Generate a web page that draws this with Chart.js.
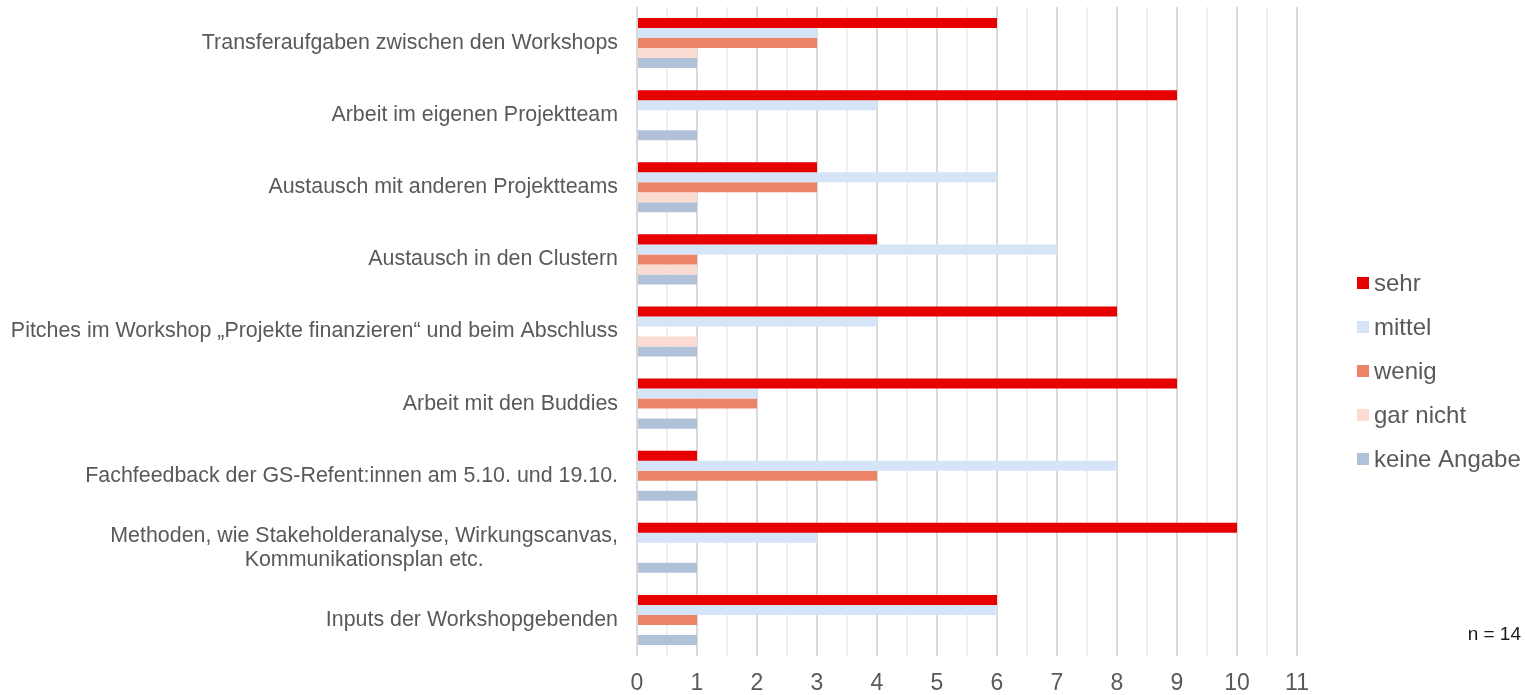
<!DOCTYPE html>
<html>
<head>
<meta charset="utf-8">
<script src="https://cdn.jsdelivr.net/npm/chart.js@4.4.1/dist/chart.umd.min.js"></script>
<style>
  html, body { margin: 0; padding: 0; background: #fff; }
  #wrap { width: 1525px; height: 695px; position: relative; }
</style>
</head>
<body>
<div id="wrap"><canvas id="bar_chart"></canvas></div>
<script>
// categories, top to bottom
const categories = [
    'Transferaufgaben zwischen den Workshops',
    'Arbeit im eigenen Projektteam',
    'Austausch mit anderen Projektteams',
    'Austausch in den Clustern',
    'Pitches im Workshop „Projekte finanzieren“ und beim Abschluss',
    'Arbeit mit den Buddies',
    'Fachfeedback der GS-Refent:innen am 5.10. und 19.10.',
    ['Methoden, wie Stakeholderanalyse, Wirkungscanvas,', 'Kommunikationsplan etc.'],
    'Inputs der Workshopgebenden'
];

const seriesNames = ['sehr', 'mittel', 'wenig', 'gar nicht', 'keine Angabe'];

const sehr        = [6, 9, 3, 4, 8, 9, 1, 10, 6];
const mittel      = [3, 4, 6, 7, 4, 2, 8, 3, 6];
const wenig       = [3, 0, 3, 1, 0, 2, 4, 0, 1];
const garNicht    = [1, 0, 1, 1, 1, 0, 0, 0, 0];
const keineAngabe = [1, 1, 1, 1, 1, 1, 1, 1, 1];

const xMin = 0;
const xMax = 11;
const sampleNote = 'n = 14';

const colors = ['#e60000', '#d6e4f8', '#eb8466', '#fbdcd2', '#b1c2d8'];
const textColor = '#595959';
const fontFamily = '"Liberation Sans", Arial, sans-serif';

const seriesValues = [sehr, mittel, wenig, garNicht, keineAngabe];

let datasets = [];
for (let i = 0; i < seriesNames.length; i++) {
    datasets.push({
        label: seriesNames[i],
        data: seriesValues[i],
        backgroundColor: colors[i],
        borderWidth: 0,
        categoryPercentage: 0.694,
        barPercentage: 1.0
    });
}

// category labels: right aligned block, multi-line labels centred inside the block
const categoryLabels = {
    id: 'categoryLabels',
    afterDraw(chart) {
        const ctx = chart.ctx;
        const yScale = chart.scales.y;
        const right = chart.chartArea.left - 19;
        const lineHeight = 24;
        ctx.save();
        ctx.font = '21.4px ' + fontFamily;
        ctx.fillStyle = textColor;
        ctx.textBaseline = 'middle';
        ctx.textAlign = 'center';
        chart.data.labels.forEach((label, i) => {
            const lines = Array.isArray(label) ? label : [label];
            const widest = Math.max(...lines.map(l => ctx.measureText(l).width));
            const cx = right - widest / 2;
            const cy = yScale.getPixelForValue(i);
            const y0 = cy - (lines.length - 1) * lineHeight / 2;
            lines.forEach((line, j) => ctx.fillText(line, cx, y0 + j * lineHeight));
        });
        ctx.restore();
    }
};

// legend on the right + sample size note
const sideLegend = {
    id: 'sideLegend',
    afterDraw(chart) {
        const ctx = chart.ctx;
        const ds = chart.data.datasets;
        const x = 1357;
        const step = 44;
        const midY = 371;
        ctx.save();
        ctx.font = '24px ' + fontFamily;
        ctx.textBaseline = 'middle';
        ctx.textAlign = 'left';
        ds.forEach((d, i) => {
            const cy = midY + (i - (ds.length - 1) / 2) * step;
            ctx.fillStyle = d.backgroundColor;
            ctx.fillRect(x, cy - 6, 12, 12);
            ctx.fillStyle = textColor;
            ctx.fillText(d.label, x + 17, cy + 1);
        });
        ctx.font = '19px ' + fontFamily;
        ctx.fillStyle = '#1a1a1a';
        ctx.textAlign = 'right';
        ctx.fillText(sampleNote, 1521, 635);
        ctx.restore();
    }
};

const ctx_bar = document.getElementById('bar_chart');

const barChart = new Chart(ctx_bar, {
    type: 'bar',
    data: {
        labels: categories,
        datasets: datasets
    },
    options: {
        indexAxis: 'y',
        responsive: true,
        maintainAspectRatio: false,
        animation: false,
        devicePixelRatio: 1,
        layout: {
            padding: { left: 0, right: 228, top: 7, bottom: 0 }
        },
        plugins: {
            legend: { display: false },
            tooltip: { enabled: false }
        },
        scales: {
            x: {
                min: xMin,
                max: xMax,
                border: { display: false },
                grid: {
                    drawTicks: false,
                    lineWidth: 2,
                    color: c => (c.tick && c.tick.value % 1 === 0) ? '#dadada' : '#f0f0f0'
                },
                ticks: {
                    stepSize: 0.5,
                    autoSkip: false,
                    maxRotation: 0,
                    padding: 14,
                    color: textColor,
                    font: { size: 23, family: fontFamily },
                    callback: v => (v % 1 === 0 ? String(v) : '')
                },
                afterFit: s => { s.height = 39; }
            },
            y: {
                border: { display: false },
                grid: { display: false },
                ticks: { display: false },
                afterFit: s => { s.width = 637; }
            }
        }
    },
    plugins: [categoryLabels, sideLegend]
});
</script>
</body>
</html>
